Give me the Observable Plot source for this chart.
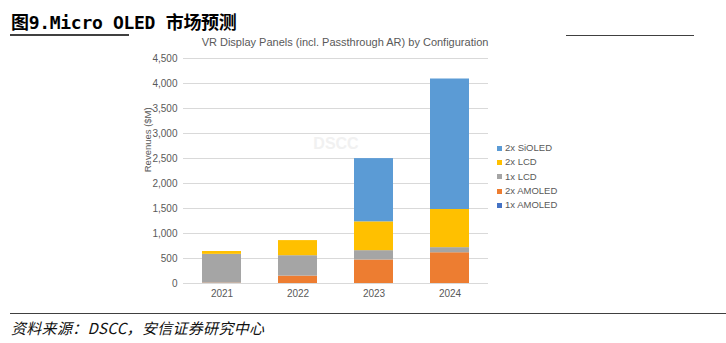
<!DOCTYPE html>
<html>
<head>
<meta charset="utf-8">
<script src="https://cdn.jsdelivr.net/npm/d3@7"></script>
<script src="https://cdn.jsdelivr.net/npm/@observablehq/plot@0.6"></script>
<style>
  html, body { margin: 0; padding: 0; background: #fff; }
  #page { position: relative; width: 726px; height: 343px; overflow: hidden; background: #fff; }
  .abs { position: absolute; white-space: nowrap; }
  #title { left: 11px; top: 8px; font: bold 18px "DejaVu Sans Mono", "Noto Sans CJK SC", monospace; color: #000; letter-spacing: -0.3px; }
  .rule { position: absolute; height: 1.5px; background: #404040; }
  #ctitle { left: 0; width: 690px; text-align: center; top: 36px; font: 11px "Liberation Sans", Arial, sans-serif; color: #595959; }
  #footer { left: 11px; top: 317px; font: italic 15px "Noto Sans CJK SC", sans-serif; color: #111; letter-spacing: 0.3px; }
  #legend { left: 497px; top: 141px; font: 9.5px "Liberation Sans", Arial, sans-serif; color: #595959; }
  #legend div { height: 14.3px; line-height: 14.3px; display: flex; align-items: center; }
  #legend span.sw { display: inline-block; width: 5px; height: 5px; margin-right: 3px; }
  #plot { position: absolute; left: 0; top: 0; }
</style>
</head>
<body>
<div id="page">
  <div id="plot"></div>
  <div id="title" class="abs">图9.Micro OLED 市场预测</div>
  <div class="rule" style="left:10px; top:34px; width:119px;"></div>
  <div class="rule" style="left:566px; top:34.5px; width:128px;"></div>
  <div id="ctitle" class="abs">VR Display Panels (incl. Passthrough AR) by Configuration</div>
  <div id="legend" class="abs"></div>
  <div class="rule" style="left:10px; top:312.5px; width:716px;"></div>
  <div id="footer" class="abs">资料来源：DSCC，安信证券研究中心</div>
</div>
<script>
// Data ($M)
const years = ["2021", "2022", "2023", "2024"];
const seriesNames = ["1x AMOLED", "2x AMOLED", "1x LCD", "2x LCD", "2x SiOLED"]; // bottom -> top
const amoled1x = [0, 0, 0, 0];
const amoled2x = [8, 148, 470, 615];
const lcd1x = [575, 408, 187, 102];
const lcd2x = [57, 302, 576, 763];
const sioled2x = [0, 0, 1265, 2610];
const seriesColors = ["#4472C4", "#ED7D31", "#A5A5A5", "#FFC000", "#5B9BD5"];
const legendOrder = ["2x SiOLED", "2x LCD", "1x LCD", "2x AMOLED", "1x AMOLED"];
const yTicks = [0, 500, 1000, 1500, 2000, 2500, 3000, 3500, 4000, 4500];

const seriesValues = [amoled1x, amoled2x, lcd1x, lcd2x, sioled2x];
const rows = [];
seriesNames.forEach((s, i) => {
  years.forEach((y, j) => rows.push({year: y, series: s, value: seriesValues[i][j]}));
});

const chart = Plot.plot({
  width: 726,
  height: 343,
  marginLeft: 183,
  marginRight: 238,
  marginTop: 58,
  marginBottom: 60,
  style: {fontFamily: "Liberation Sans, Arial, sans-serif", fontSize: "10px", color: "#595959", background: "transparent"},
  x: {domain: years, paddingInner: 0.49, paddingOuter: 0.245, label: null, tickSize: 0, tickPadding: 6},
  y: {domain: [0, 4500], ticks: yTicks, tickFormat: d3.format(","), label: null, tickSize: 0, tickPadding: 6},
  color: {domain: seriesNames, range: seriesColors},
  marks: [
    Plot.ruleY(yTicks, {stroke: "#d9d9d9", strokeWidth: 1}),
    Plot.text(["DSCC"], {x: () => "2022", dx: 38, y: () => 2800, text: d => d, fill: "#f1f1f1", fontSize: 16, fontWeight: "bold"}),
    Plot.barY(rows, {x: "year", y: "value", fill: "series", order: seriesNames}),
    Plot.axisX({tickSize: 0, tickPadding: 6, fill: "#595959", fontSize: 10}),
    Plot.axisY({ticks: yTicks, tickFormat: d3.format(","), tickSize: 0, tickPadding: 6, fill: "#595959", fontSize: 10, label: null}),
    Plot.text(["Revenues ($M)"], {frameAnchor: "left", dx: -36, y: () => 2225, rotate: -90, text: d => d, fill: "#595959", fontSize: 9.5})
  ]
});
document.getElementById("plot").appendChild(chart);

// Legend
const leg = document.getElementById("legend");
legendOrder.forEach(name => {
  const d = document.createElement("div");
  const sw = document.createElement("span");
  sw.className = "sw";
  sw.style.background = seriesColors[seriesNames.indexOf(name)];
  d.appendChild(sw);
  d.appendChild(document.createTextNode(name));
  leg.appendChild(d);
});
</script>
</body>
</html>
